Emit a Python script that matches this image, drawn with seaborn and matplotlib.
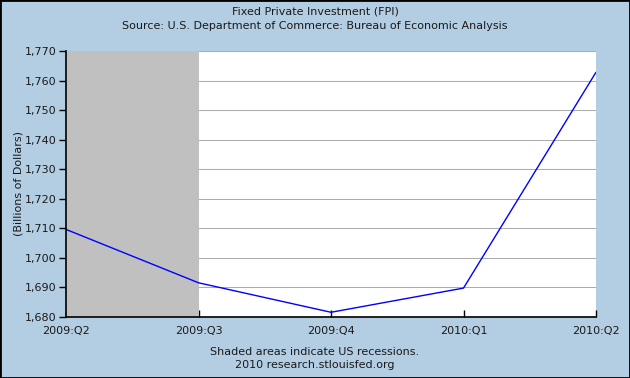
import matplotlib
matplotlib.use("Agg")
import matplotlib.pyplot as plt
import seaborn as sns
import pandas as pd

quarters = ["2009:Q2", "2009:Q3", "2009:Q4", "2010:Q1", "2010:Q2"]
values = [1709.6, 1691.5, 1681.5, 1689.7, 1762.9]
yticks = [1680, 1690, 1700, 1710, 1720, 1730, 1740, 1750, 1760, 1770]
recession = (0, 1)

sns.set_theme(style="white")
plt.rcParams['font.family'] = ['DejaVu Sans']

bg = "#b3cde3"
fig = plt.figure(figsize=(6.3, 3.78), dpi=100, facecolor=bg)
ax = fig.add_axes([66/630, 1-316.7/378, (596-66)/630, (316.7-51.3)/378])
ax.set_facecolor("white")

df = pd.DataFrame({"q": range(len(quarters)), "v": values})
for t in yticks[1:]:
    ax.axhline(t, color="#acacac", lw=0.75, zorder=1)
ax.axvspan(recession[0], recession[1], color="#c0c0c0", zorder=2, lw=0)
sns.lineplot(data=df, x="q", y="v", ax=ax, color="#0000ff", lw=1, zorder=3)

ax.set_xlim(0, len(quarters)-1)
ax.set_ylim(1680, 1770)
ax.set_yticks(yticks)
ax.set_yticklabels([f"{t:,}" for t in yticks], fontsize=8, color="#1a1a1a")
ax.set_xticks(range(len(quarters)))
ax.set_xticklabels(quarters, fontsize=8, color="#1a1a1a")
ax.tick_params(axis="y", direction="out", length=5, width=1, color="black", pad=2, left=True)
ax.tick_params(axis="x", direction="in", length=5, width=1, color="black", pad=7, bottom=True)
ax.set_xlabel("")
ax.set_ylabel("(Billions of Dollars)", fontsize=8, color="#1a1a1a")
ax.yaxis.set_label_coords(-0.08, 0.5)
for s in ["top", "right"]:
    ax.spines[s].set_visible(False)
for s in ["left", "bottom"]:
    ax.spines[s].set_color("black")
    ax.spines[s].set_linewidth(1.2)
    ax.spines[s].set_zorder(4)

fig.text(0.5, 1-12/378, "Fixed Private Investment (FPI)", ha="center", va="center", fontsize=8, color="#1a1a1a")
fig.text(0.5, 1-26/378, "Source: U.S. Department of Commerce: Bureau of Economic Analysis", ha="center", va="center", fontsize=8, color="#1a1a1a")
fig.text(0.5, 1-352/378, "Shaded areas indicate US recessions.", ha="center", va="center", fontsize=8, color="#1a1a1a")
fig.text(0.5, 1-365/378, "2010 research.stlouisfed.org", ha="center", va="center", fontsize=8, color="#1a1a1a")

border = plt.Rectangle((0, 0), 1, 1, transform=fig.transFigure, fill=False, edgecolor="black", lw=2)
fig.patches.append(border)

fig.savefig("out.png", dpi=100, facecolor=bg)
